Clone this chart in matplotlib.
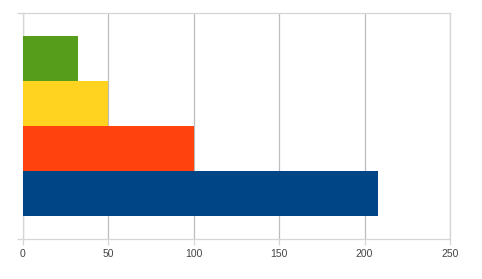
import numpy as np
import matplotlib.pyplot as plt

# four series, one category (bottom to top)
series = ['Series 1', 'Series 2', 'Series 3', 'Series 4']
values = [208, 100, 50, 32]
colors = ['#004586', '#ff420e', '#ffd320', '#579d1c']
xticks = [0, 50, 100, 150, 200, 250]

plt.rcParams['font.family'] = ['Liberation Sans', 'DejaVu Sans']

fig = plt.figure(figsize=(4.82, 2.79), dpi=100)
ax = fig.add_axes([23 / 482, 40 / 279, 427 / 482, 226 / 279])

pos = np.arange(len(values))
ax.barh(pos, values, height=1.0, color=colors, edgecolor='none', zorder=3)

ax.set_xlim(0, 250)
ax.set_ylim(-1, 4)
ax.set_xticks(xticks)
ax.set_yticks([-1, 4])
ax.set_yticklabels([])

edge_col = '#d6d6d6'
ax.grid(axis='x', color='#bdbdbd', linewidth=0.9, zorder=0)
for s in ax.spines.values():
    s.set_color(edge_col)
    s.set_linewidth(0.9)
ax.tick_params(axis='both', colors=edge_col, length=4, width=0.9,
               labelsize=7.5, labelcolor='#444444')
ax.tick_params(axis='x', pad=3.5)

fig.savefig('out.png', dpi=100)
